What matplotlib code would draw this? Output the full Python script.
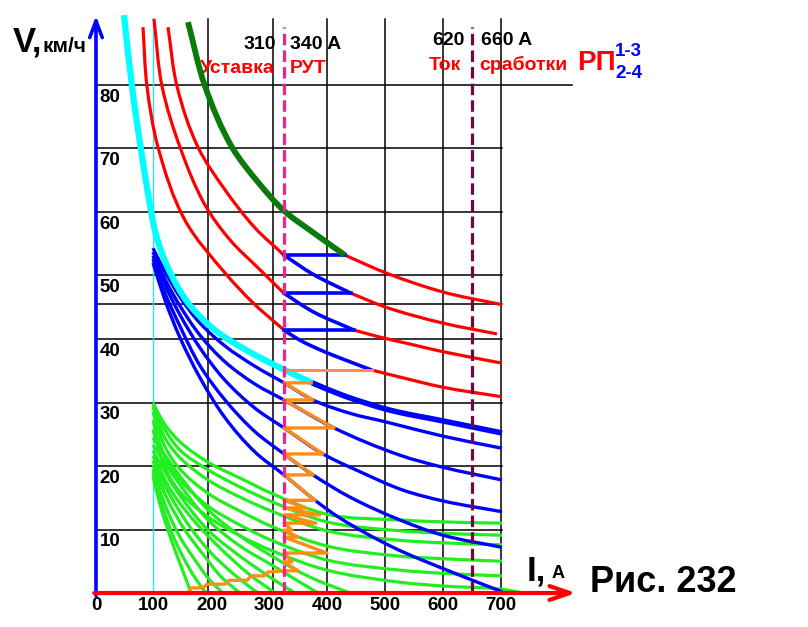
import matplotlib
matplotlib.use('Agg')
import matplotlib.pyplot as plt
from matplotlib.path import Path
from matplotlib.patches import PathPatch
import numpy as np

plt.rcParams['font.family'] = ['Liberation Sans', 'DejaVu Sans']

# ---------------- data (I in A, V in km/h) ----------------
x_ticks = [0, 100, 200, 300, 400, 500, 600, 700]
y_ticks = [10, 20, 30, 40, 50, 60, 70, 80]
grid_I = [194, 306, 400, 500, 600, 700]
grid_V = [80, 70, 60, 50, 45.5, 40, 30, 20, 10]
rut_I = 325        # уставка РУТ (310...340 A)
rp_I = 650         # ток срабатывания РП (620...660 A)
limit_I = 98.5     # thin cyan line

# cyan (thick) characteristic, then thick blue continuation
cyan_I = [48.4, 62.2, 77.8, 95.1, 103.7, 124.4, 159.0, 205.7, 262.7, 326.6, 373.3]
cyan_V = [91.0, 79.8, 69.8, 60.2, 56.4, 51.2, 45.7, 41.4, 38.1, 35.1, 33.1]
tb_I = [373.3, 430.3, 508.1, 599.7, 701.7]
tb_V = [33.1, 31.0, 28.8, 27.1, 25.2]

# green (thick) characteristic + red continuation
g_I = [159.0, 188.4, 235.1, 280.0, 324.9, 373.3, 430.3]
g_V = [89.9, 79.8, 70.2, 64.7, 60.2, 56.9, 53.2]
g_red_I = [430.3, 501.2, 599.7, 701.7]
g_red_V = [53.2, 50.4, 47.4, 45.4]

# red characteristics A, B, C (left red, blue middle, red right)
A_left_I = [124.4, 140.0, 176.3, 222.9, 274.8, 324.9]
A_left_V = [89.1, 79.8, 70.2, 63.5, 57.5, 53.2]
A_blue_I = [324.9, 375.0, 440.7]
A_blue_V = [53.2, 50.2, 47.2]
A_right_I = [440.7, 501.2, 599.7, 693.0]
A_right_V = [47.2, 45.0, 42.5, 40.8]

B_left_I = [100.2, 114.1, 145.2, 188.4, 231.6, 280.0, 324.9]
B_left_V = [90.4, 79.8, 70.2, 61.1, 55.6, 51.2, 47.2]
B_blue_I = [324.9, 375.0, 445.9]
B_blue_V = [47.2, 44.3, 41.4]
B_right_I = [445.9, 490.8, 542.7, 599.7, 701.7]
B_right_V = [41.4, 40.3, 39.2, 38.0, 36.2]

C_left_I = [81.2, 88.1, 107.2, 153.8, 223.0, 271.3, 324.9]
C_left_V = [89.1, 79.8, 70.2, 58.7, 50.4, 45.7, 41.4]
C_blue_I = [324.9, 352.6, 387.1, 416.5, 477.0]
C_blue_V = [41.4, 39.8, 38.3, 37.2, 35.1]
C_right_I = [477.0, 525.4, 599.7, 701.7]
C_right_V = [35.1, 34.0, 32.4, 30.9]

# blue steps (V, I_end) starting at the RUT line
step_V = [53.2, 47.2, 41.4]
step_I_end = [430.3, 440.7, 445.9]
salmon_V = 35.1
salmon_I_end = 477.0

# blue fan characteristics
X_I = [98.5, 119.3, 145.2, 179.7, 223.0, 274.8, 324.9, 375.0, 439.0, 502.9, 599.7, 701.7]
X_V = [54.3, 50.6, 46.6, 42.5, 38.9, 35.7, 33.1, 30.4, 28.3, 26.9, 24.7, 22.8]
Y_I = [98.5, 119.3, 145.2, 179.7, 223.0, 274.8, 324.9, 411.3, 525.4, 599.7, 701.7]
Y_V = [53.7, 49.4, 45.2, 40.6, 36.4, 32.9, 30.4, 26.0, 21.7, 19.8, 17.8]
Z_I = [98.5, 119.3, 145.2, 179.7, 223.0, 274.8, 324.9, 392.3, 456.3, 530.6, 599.7, 701.7]
Z_V = [53.1, 48.5, 43.8, 38.6, 33.5, 29.1, 26.0, 21.9, 19.1, 16.2, 14.5, 12.8]
W_I = [98.5, 119.3, 145.2, 179.7, 223.0, 274.8, 324.9, 375.0, 439.0, 525.4, 599.7, 701.7]
W_V = [52.6, 47.2, 42.0, 35.8, 30.4, 25.4, 21.9, 18.6, 15.1, 11.5, 9.1, 7.2]
U_I = [98.5, 119.3, 145.2, 179.7, 223.0, 274.8, 324.9, 378.5, 421.7, 513.3, 606.6, 701.7]
U_V = [52.0, 46.1, 40.2, 33.9, 27.6, 22.2, 18.6, 14.6, 11.8, 7.2, 3.6, 0.2]

# lime-green characteristics (long ones)
lime_I = [98.5, 119.3, 145.2, 193.6, 248.9, 305.9, 399.2, 525.4, 599.7, 701.7]
L1_V = [29.9, 26.5, 23.8, 20.6, 18.1, 15.6, 12.4, 11.5, 11.2, 11.0]
L2_V = [29.8, 25.7, 22.5, 19.4, 16.7, 14.3, 11.2, 9.8, 9.4, 9.1]
L3_V = [29.3, 24.4, 21.3, 17.8, 15.1, 12.8, 9.8, 8.3, 7.9, 7.6]
L4_V = [28.5, 23.0, 19.5, 15.7, 12.9, 10.4, 7.4, 5.8, 5.4, 5.0]
L5_V = [27.2, 21.4, 17.8, 13.7, 10.7, 8.2, 5.2, 3.6, 3.1, 2.7]
L6_I = [98.5, 119.3, 145.2, 193.6, 248.9, 305.9, 399.2, 525.4, 599.7, 701.7, 738.0]
L6_V = [25.7, 19.7, 15.9, 12.0, 9.0, 6.6, 3.6, 1.7, 1.1, 0.6, 0.0]
# lime-green characteristics (ending on the I axis)
E9_I = [98.5, 145.2, 193.6, 248.9, 305.9, 369.9, 439.0]
E9_V = [24.4, 18.4, 13.1, 9.0, 5.7, 2.5, 0.0]
E8_I = [98.5, 141.7, 193.6, 248.9, 305.9, 352.6, 383.7]
E8_V = [23.3, 17.5, 11.5, 7.4, 4.3, 1.7, 0.0]
E7_I = [98.5, 136.5, 193.6, 248.9, 300.7, 343.9]
E7_V = [22.4, 16.5, 9.9, 5.8, 2.5, 0.0]
E6_I = [98.5, 131.4, 171.1, 214.3, 262.7, 309.4]
E6_V = [21.6, 15.9, 11.2, 7.1, 3.1, 0.0]
E5_I = [98.5, 127.9, 162.5, 197.0, 240.2, 280.0]
E5_V = [20.8, 15.4, 10.4, 6.5, 2.8, 0.0]
E4_I = [98.5, 124.4, 153.8, 188.4, 217.8, 248.9]
E4_V = [20.2, 14.6, 9.9, 5.7, 2.4, 0.0]
E3_I = [98.5, 119.3, 145.2, 171.1, 197.0, 219.5]
E3_V = [19.5, 13.9, 8.8, 5.2, 2.0, 0.0]
E2_I = [98.5, 114.1, 131.4, 150.4, 171.1, 190.1]
E2_V = [18.9, 13.9, 9.4, 5.7, 2.4, 0.0]
E1_I = [98.5, 110.6, 124.4, 138.3, 152.1, 164.2]
E1_V = [18.3, 13.9, 9.9, 6.3, 3.0, 0.0]

# orange start-up path
orange_I = [159.0, 164.2, 184.9, 191.8, 223.0, 229.9, 261.0, 267.9, 290.4, 297.3, 324.9,
            349.1, 324.9, 338.7, 324.9, 399.2, 324.9, 349.1, 324.9, 338.7, 324.9,
            380.2, 324.9, 387.1, 324.9, 362.9, 324.9, 378.5, 324.9, 375.0, 324.9,
            392.3, 324.9, 411.3, 324.9, 375.0, 324.9, 372.0]
orange_V = [0.0, 0.8, 0.8, 1.4, 1.4, 2.0, 2.0, 2.7, 2.7, 3.3, 3.5,
            3.5, 4.9, 4.9, 6.3, 6.3, 8.8, 8.8, 9.9, 9.9, 11.0,
            11.0, 12.3, 12.3, 13.4, 13.4, 14.6, 14.6, 18.6, 18.6, 21.9,
            21.9, 26.0, 26.0, 30.4, 30.4, 33.1, 33.1]

# ---------------- figure ----------------
fig = plt.figure(figsize=(8.08, 6.27), dpi=100)
ax = fig.add_axes([0, 0, 1, 1])
ax.set_xlim(-165.9, 1230.5)
ax.set_ylim(-5.35, 93.38)
ax.axis('off')

RED = '#ff0000'
BLUE = '#0000ff'
LIME = '#22ee22'
ORANGE = '#ff8c14'

# aspect factors (pixels per unit) used only to shape the smooth drawing
SX, SY = 0.5786, 6.35


def curve(xs, ys, color, lw, z, cap='butt'):
    """Draw a smooth cubic Bezier path through the read points."""
    P = np.column_stack([np.asarray(xs, float) * SX, np.asarray(ys, float) * SY])
    n = len(P)
    if n < 3:
        ax.plot(xs, ys, color=color, lw=lw, zorder=z, solid_capstyle=cap)
        return
    T = np.zeros_like(P)
    for i in range(n):
        if i == 0:
            d = P[1] - P[0]
        elif i == n - 1:
            d = P[-1] - P[-2]
        else:
            d1 = P[i] - P[i - 1]
            d2 = P[i + 1] - P[i]
            d = d1 / np.linalg.norm(d1) + d2 / np.linalg.norm(d2)
        T[i] = d / np.linalg.norm(d)
    verts = [P[0]]
    codes = [Path.MOVETO]
    for i in range(n - 1):
        L = np.linalg.norm(P[i + 1] - P[i])
        verts += [P[i] + T[i] * L / 3, P[i + 1] - T[i + 1] * L / 3, P[i + 1]]
        codes += [Path.CURVE4] * 3
    verts = np.array(verts) / np.array([SX, SY])
    ax.add_patch(PathPatch(Path(verts, codes), fill=False, edgecolor=color, lw=lw,
                           zorder=z, capstyle=cap, joinstyle='round'))


# grid
for g in grid_I:
    ax.plot([g, g], [0, 90.4], color='black', lw=1.1, zorder=1)
for v in grid_V:
    right = 822.7 if v == 80 else 702
    ax.plot([0, right], [v, v], color='black', lw=1.1, zorder=1)

# thin cyan limit line
ax.plot([limit_I, limit_I], [0, 90.5], color='#33ddff', lw=1.0, zorder=2)

# lime curves
for vv in (L1_V, L2_V, L3_V, L4_V, L5_V):
    curve(lime_I, vv, LIME, 2.3, 3)
curve(L6_I, L6_V, LIME, 2.3, 3)
for ii, vv in ((E9_I, E9_V), (E8_I, E8_V), (E7_I, E7_V), (E6_I, E6_V), (E5_I, E5_V),
               (E4_I, E4_V), (E3_I, E3_V), (E2_I, E2_V), (E1_I, E1_V)):
    curve(ii, vv, LIME, 2.3, 3)

# blue fan
for ii, vv in ((X_I, X_V), (Y_I, Y_V), (Z_I, Z_V), (W_I, W_V), (U_I, U_V)):
    curve(ii, vv, BLUE, 2.4, 4)
curve(tb_I, tb_V, BLUE, 4.0, 4)

# red characteristics
for ii, vv in ((A_left_I, A_left_V), (A_right_I, A_right_V), (B_left_I, B_left_V),
               (B_right_I, B_right_V), (C_left_I, C_left_V), (C_right_I, C_right_V),
               (g_red_I, g_red_V)):
    curve(ii, vv, RED, 2.3, 4)
for ii, vv in ((A_blue_I, A_blue_V), (B_blue_I, B_blue_V), (C_blue_I, C_blue_V)):
    curve(ii, vv, BLUE, 2.6, 5)
for sv, se in zip(step_V, step_I_end):
    ax.plot([rut_I, se], [sv, sv], color=BLUE, lw=2.6, zorder=5)

# cyan thick and green thick
curve(cyan_I, cyan_V, '#00ffff', 4.5, 6)
curve(g_I, g_V, '#0a7a0a', 4.2, 6)

# orange path and salmon step
ax.plot(orange_I, orange_V, color=ORANGE, lw=2.4, zorder=7)
ax.plot([rut_I, salmon_I_end], [salmon_V, salmon_V], color='#ff8a5a', lw=2.2, zorder=7)

# dashed lines
ax.plot([rut_I, rut_I], [0, 89.1], color='#f5208c', lw=2.3, ls=(0, (3.6, 1.6)), zorder=8)
ax.plot([rp_I, rp_I], [0, 89.1], color='#6e0a3e', lw=2.3, ls=(0, (3.6, 1.6)), zorder=8)

# axes arrows
ax.annotate('', xy=(0, 90.9), xytext=(0, -0.4),
            arrowprops=dict(arrowstyle='->,head_length=1.2,head_width=0.45', color=BLUE,
                            lw=2.6, shrinkA=0, shrinkB=0, mutation_scale=10), zorder=9)
ax.annotate('', xy=(829.6, 0), xytext=(-3, 0),
            arrowprops=dict(arrowstyle='->,head_length=1.45,head_width=0.5', color=RED,
                            lw=3.0, shrinkA=0, shrinkB=0, mutation_scale=10), zorder=9)

# tick labels
for t in x_ticks:
    ax.text(t, -1.9, str(t), ha='center', va='center', fontsize=13.5, fontweight='bold', zorder=10)
for t in y_ticks:
    ax.text(6, t - 1.9, str(t), ha='left', va='center', fontsize=13.5, fontweight='bold', zorder=10)

# axis titles
ax.text(-143.4, 85.2, 'V,', fontsize=25, fontweight='bold', ha='left', va='baseline')
ax.text(-91.6, 85.2, 'км/ч', fontsize=15, fontweight='bold', ha='left', va='baseline')
ax.text(744.9, 2.05, 'I,', fontsize=25, fontweight='bold', ha='left', va='baseline')
ax.text(788.1, 2.4, 'A', fontsize=13, fontweight='bold', ha='left', va='baseline')
ax.text(853.8, 0.16, 'Рис. 232', fontsize=26, fontweight='bold', ha='left', va='baseline')

# annotations at the top
ax.text(254.1, 85.7, '310', fontsize=14, fontweight='bold', ha='left', va='baseline')
ax.text(335.3, 85.7, '340 A', fontsize=14, fontweight='bold', ha='left', va='baseline')
ax.text(179.7, 81.9, 'Уставка', fontsize=14, fontweight='bold', color=RED, ha='left', va='baseline')
ax.text(335.3, 81.9, 'РУТ', fontsize=14, fontweight='bold', color=RED, ha='left', va='baseline')
ax.text(580.7, 86.3, '620', fontsize=14, fontweight='bold', ha='left', va='baseline')
ax.text(665.4, 86.3, '660 A', fontsize=14, fontweight='bold', ha='left', va='baseline')
ax.text(575.5, 82.4, 'Ток', fontsize=14, fontweight='bold', color=RED, ha='left', va='baseline')
ax.text(662.0, 82.4, 'сработки', fontsize=14, fontweight='bold', color=RED, ha='left', va='baseline')
ax.text(831.3, 82.4, 'РП', fontsize=20, fontweight='bold', color=RED, ha='left', va='baseline')
ax.text(897.0, 84.6, '1-3', fontsize=13.5, fontweight='bold', color=BLUE, ha='left', va='baseline')
ax.text(897.0, 81.1, '2-4', fontsize=13.5, fontweight='bold', color=BLUE, ha='left', va='baseline')

fig.savefig('out.png', dpi=100)
